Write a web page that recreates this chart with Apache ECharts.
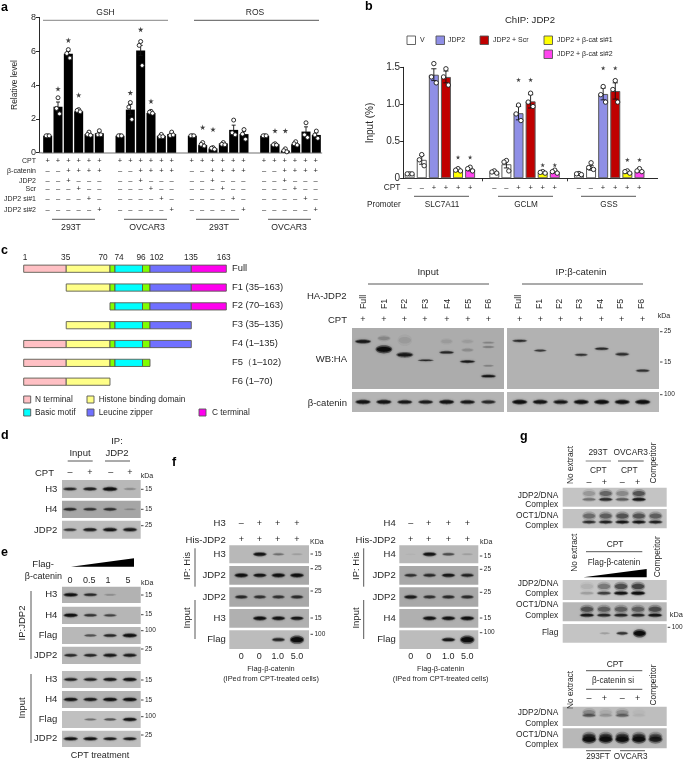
<!DOCTYPE html>
<html><head><meta charset="utf-8">
<style>html,body{margin:0;padding:0;background:#fff}#c{width:685px;height:760px}</style>
<script src="https://cdn.jsdelivr.net/npm/echarts@6/dist/echarts.min.js"></script>
</head><body><div id="c"></div>
<script>
// ---------- Panel a data ----------
const aGroupNames = ['293T','OVCAR3','293T','OVCAR3'];
const aMeans = [[1.0,2.72,5.85,2.45,1.1,1.15],[1.0,2.55,6.05,2.35,1.0,1.1],[1.0,0.45,0.25,0.55,1.35,1.1],[1.0,0.5,0.12,0.5,1.25,1.05]];
const aErrors = [[0.02,0.28,0.14,0.05,0.07,0.09],[0.02,0.3,0.3,0.05,0.06,0.08],[0.02,0.06,0.04,0.05,0.28,0.17],[0.02,0.03,0.06,0.07,0.28,0.13]];
const aPoints = [
 [[1,1,1],[3.25,2.62,2.3],[6.1,5.87,5.6],[2.55,2.5,2.42],[1.22,1.08,1.03],[1.3,1.06,1.06]],
 [[1,1,1],[2.97,2.7,1.97],[6.58,6.35,5.16],[2.45,2.4,2.33],[1.08,0.95,0.95],[1.22,1.02,1.05]],
 [[1,1,1],[0.6,0.49,0.4],[0.3,0.27,0.2],[0.6,0.5,0.47],[1.93,1.18,1.06],[1.37,1.1,0.8]],
 [[1,1,1],[0.53,0.47,0.45],[0.23,0.12,0.05],[0.65,0.53,0.45],[1.77,1.06,0.9],[1.28,1.05,0.85]]];
const aStars = [[[1,3.78],[2,6.66],[3,3.41]],[[1,3.55],[2,7.29],[3,3.05]],[[1,1.5],[2,1.38]],[[1,1.3],[2,1.3]]];
const aRowNames = ['CPT','β-catenin','JDP2','Scr','JDP2 si#1','JDP2 si#2'];
const aRowSigns = ['++++++','--++++','--+---','---+--','----+-','-----+'];
const aTicks = [0,2,4,6,8];
// ---------- Panel b data ----------
const bGroups = ['SLC7A11','GCLM','GSS'];
const bSeriesNames = ['V','JDP2','JDP2 + Scr','JDP2 + β-cat si#1','JDP2 + β-cat si#2'];
const bColorIdx = [0,0,1,2,3,4];
const bColors = ['#ffffff','#8f8fe6','#c00000','#ffff00','#ff44ee'];
const bMeans = [[0.06,0.25,1.4,1.37,0.11,0.12],[0.08,0.19,0.88,1.04,0.08,0.09],[0.05,0.14,1.14,1.18,0.08,0.1]];
const bErrors = [[0.01,0.06,0.08,0.08,0.015,0.02],[0.01,0.05,0.09,0.09,0.01,0.015],[0.005,0.03,0.08,0.11,0.01,0.015]];
const bPoints = [
 [[0.06,0.06,0.06],[0.32,0.25,0.17],[1.55,1.37,1.29],[1.48,1.37,1.26],[0.13,0.11,0.1],[0.15,0.13,0.1]],
 [[0.1,0.085,0.07],[0.24,0.22,0.1],[0.99,0.87,0.78],[1.15,1.03,0.97],[0.09,0.08,0.07],[0.11,0.09,0.07]],
 [[0.065,0.06,0.05],[0.21,0.145,0.12],[1.24,1.13,1.03],[1.32,1.2,1.03],[0.1,0.09,0.07],[0.13,0.1,0.09]]];
const bStars = [[[2,1.72],[3,1.72],[4,0.285],[5,0.285]],[[2,1.33],[3,1.33],[4,0.18],[5,0.18]],[[2,1.49],[3,1.49],[4,0.25],[5,0.25]]];
const bCptSigns = '--++++';
const bTicks = [0,0.5,1,1.5];
// ---------- Panel c data ----------
const cDomains = [[1,35,'#ffc0c4'],[35,70,'#ffff88'],[70,74,'#80ff00'],[74,96,'#00ffff'],[96,102,'#80ff00'],[102,135,'#7070ff'],[135,163,'#ff00ee']];
const cFragments = [['Full',1,163],['F1 (35–163)',35,163],['F2 (70–163)',70,163],['F3 (35–135)',35,135],['F4 (1–135)',1,135],['F5（1–102)',1,102],['F6 (1–70)',1,70]];
const cBoundaries = [1,35,70,74,96,102,135,163];
const cLegendNames = ['N terminal','Histone binding domain','Basic motif','Leucine zipper','C terminal'];
const cLaneNames = ['Full','F1','F2','F3','F4','F5','F6'];
// bands: lane, migration (0 top..1 bottom), darkness, width, height
const cInputBands = [[0,.22,.8,.78,.07],[1,.17,.16,.65,.1],[1,.35,1,.8,.13],[2,.2,.08,.7,.18],[2,.44,.8,.82,.09],[3,.53,.68,.78,.035],[4,.4,.68,.72,.05],[4,.22,.08,.6,.1],[5,.55,.8,.75,.05],[5,.36,.14,.6,.07],[5,.22,.07,.6,.08],[6,.79,.85,.72,.05],[6,.62,.18,.55,.04],[6,.31,.22,.6,.04],[6,.24,.18,.6,.04]];
const cIpBands = [[0,.21,.65,.75,.05],[1,.37,.55,.65,.045],[3,.44,.6,.66,.05],[4,.34,.65,.72,.05],[5,.43,.62,.7,.06],[6,.7,.6,.7,.05]];
const cCatInput = [.85,.85,.8,.75,.85,.8,.65];
const cCatIp = [.95,.85,.82,.9,.95,.9,.96];
// ---------- Panel d data ----------
const dLanes = ['–','+','–','+'];
const dH3 = [.65,.7,.95,.2];
const dH4 = [.65,.58,.6,.15];
const dJdp2 = [.55,.75,.82,.78];
// ---------- Panel e data ----------
const eDoses = ['0','0.5','1','5'];
const eIpH3 = [.92,.65,.18,0], eIpH4 = [.9,.58,.5,0], eIpFlag = [0,.42,.68,.92], eIpJdp2 = [.65,.68,.82,.78];
const eInH3 = [.72,.72,.78,.86], eInH4 = [.85,.78,.9,.9], eInFlag = [0,.3,.42,.82], eInJdp2 = [.88,.88,.76,.76];
// ---------- Panel f data ----------
const fDoses = ['0','0','1.0','5.0'];
const fSign1 = ['–','+','+','+'], fSign2 = ['+','+','+','+'];
const fLH3 = [0,.85,.3,.1], fLJ = [.92,.82,.9,.94], fLJin = [.65,.58,.58,.62], fLH3in = [0,.9,.85,.8], fLFlag = [0,0,.7,1];
const fRH4 = [.02,.85,.45,.1], fRJ = [.6,.65,.8,.72], fRJin = [.75,.58,.62,.62], fRH4in = [0,.85,.85,.9], fRFlag = [0,0,.8,1];
// ---------- Panel g data ----------
const g1J = [0,.32,.7,.42,.85,0], g1O = [0,.65,.75,.85,.85,.75];
const g2J = [0,.15,.55,.9,1,0], g2O = [0,.85,.72,.72,.72,.9], g2Flag = [0,0,.14,.6,1,0];
const g3J = [0,.4,.15,.35,.04,0], g3O = [0,1,.95,.95,.95,.75];

// ---------- layout helpers ----------
const FONT = '"Liberation Sans", Arial, sans-serif', INK = '#262626';
const graphic = [], grids = [], xAxes = [], yAxes = [], series = [];
function T(x,y,s,o={}){graphic.push({type:'text',x,y,rotation:o.rot||0,silent:true,z:50,style:{text:s,fill:o.c||INK,font:`${o.b?'bold ':''}${o.f||8}px ${FONT}`,align:o.a||'center',verticalAlign:'middle'}});}
function L(x1,y1,x2,y2,c='#444',w=.9){graphic.push({type:'line',silent:true,z:40,shape:{x1,y1,x2,y2},style:{stroke:c,lineWidth:w}});}
function R(x,y,w,h,fill,stroke='#555'){graphic.push({type:'rect',silent:true,z:40,shape:{x,y,width:w,height:h},style:{fill,stroke,lineWidth:.9}});}
function Tri(x1,y,x2,h){graphic.push({type:'polygon',silent:true,z:40,shape:{points:[[x1,y],[x2,y-h],[x2,y]]},style:{fill:'#000'}});}
function kd(x,y,s){L(x,y,x+2.5,y,'#333',.9);T(x+4,y,s,{a:'left',f:6.5});}
const sign = ch => ch==='+'?'+':'–';

// blot panels: each one is its own grid whose x axis counts lanes and y axis counts migration
function blot(rect,x0,sp,bg,bands){
  const [x1,y1,x2,y2] = rect, gi = grids.length;
  grids.push({left:x1,top:y1,width:x2-x1,height:y2-y1,show:true,backgroundColor:bg,borderWidth:0});
  xAxes.push({gridIndex:gi,type:'value',show:false,min:(x1-x0)/sp,max:(x2-x0)/sp});
  yAxes.push({gridIndex:gi,type:'value',show:false,min:0,max:1,inverse:true});
  series.push({type:'custom',xAxisIndex:gi,yAxisIndex:gi,clip:true,silent:true,animation:false,data:bands,
    encode:{x:0,y:1},renderItem(p,api){
      const c = api.coord([api.value(0),api.value(1)]), s = api.size([1,1]);
      const a = api.value(2), rx = api.value(3)*s[0]/2, ry = api.value(4)*s[1]/2;
      return {type:'group',children:[
        {type:'ellipse',shape:{cx:c[0],cy:c[1],rx,ry:ry*1.05},style:{fill:`rgba(20,20,20,${a*.5})`,shadowBlur:2.5,shadowColor:`rgba(20,20,20,${a*.55})`}},
        {type:'ellipse',shape:{cx:c[0],cy:c[1],rx:rx*.85,ry:ry*.6},style:{fill:`rgba(12,12,12,${a*.95})`,shadowBlur:1.5,shadowColor:`rgba(12,12,12,${a*.8})`}}
      ]};
    }});
}
const lanes = arr => arr.map((v,i)=>[i,.5,v,.62+.14*v,.12+.13*v+(v>.97?.18:0)]).filter(b=>b[2]>0);
const doublet = (arr,lo=.68,up=.36,h=.2) => arr.flatMap((v,i)=>v>0?[[i,up,v*.5,.84,.44],[i,lo,v*.95,.86,h]]:[]);

// ---------- panel a chart ----------
function slotsFrom(groups,gap){const out=[];groups.forEach((g,gi)=>{g.forEach((v,i)=>out.push({g:gi,i,v}));if(gi<groups.length-1||gap>0)for(let k=0;k<(gi<groups.length-1?1:gap);k++)out.push(null);});return out;}
function addBarChart(cfg){
  const gi = grids.length, slots = slotsFrom(cfg.means,cfg.trail), n = slots.length;
  grids.push({left:cfg.left,top:cfg.top,width:cfg.width,height:cfg.height,show:false});
  xAxes.push({gridIndex:gi,type:'category',data:slots.map((s,i)=>String(i)),boundaryGap:true,
    axisLine:{show:true,lineStyle:cfg.xLine},axisLabel:{show:false},
    axisTick:cfg.xTick?{show:true,alignWithLabel:true,length:3,lineStyle:{color:'#222',width:.9},interval:(i)=>slots[i]===null&&i<n-1}:{show:false}});
  yAxes.push({gridIndex:gi,type:'value',min:0,max:cfg.max,interval:cfg.step,offset:cfg.offset,splitLine:{show:false},
    axisLine:{show:true,onZero:false,lineStyle:{color:'#111',width:.9}},axisTick:{show:true,length:3.5,lineStyle:{color:'#111',width:.9}},
    axisLabel:{fontFamily:FONT,fontSize:cfg.tickFont,color:INK,margin:3.5,formatter:cfg.fmt}});
  const slotOf = (g,i)=>slots.findIndex(s=>s&&s.g===g&&s.i===i);
  series.push({type:'bar',xAxisIndex:gi,yAxisIndex:gi,barWidth:cfg.barW,silent:true,animation:false,z:2,
    data:slots.map(s=>s?{value:s.v,itemStyle:cfg.itemStyle(s)}:null)});
  const errs=[];cfg.errors.forEach((g,gk)=>g.forEach((e,i)=>errs.push([slotOf(gk,i),cfg.means[gk][i],e])));
  series.push({type:'custom',xAxisIndex:gi,yAxisIndex:gi,silent:true,animation:false,z:3,data:errs,encode:{x:0,y:1},
    renderItem(p,api){const x=api.value(0),m=api.value(1),e=api.value(2),a=api.coord([x,m+e]),b=api.coord([x,m-e]);
      const w=cfg.capW,st={stroke:'#111',lineWidth:.9};
      return {type:'group',children:[{type:'line',shape:{x1:a[0],y1:a[1],x2:b[0],y2:b[1]},style:st},
        {type:'line',shape:{x1:a[0]-w,y1:a[1],x2:a[0]+w,y2:a[1]},style:st},{type:'line',shape:{x1:b[0]-w,y1:b[1],x2:b[0]+w,y2:b[1]},style:st}]};}});
  const pts=[];cfg.points.forEach((g,gk)=>g.forEach((tri,i)=>tri.forEach((v,r)=>pts.push([slotOf(gk,i),v,r]))));
  series.push({type:'custom',xAxisIndex:gi,yAxisIndex:gi,silent:true,animation:false,z:4,data:pts,encode:{x:0,y:1},
    renderItem(p,api){const c=api.coord([api.value(0),api.value(1)]);
      return {type:'circle',shape:{cx:c[0]+cfg.jitter[api.value(2)],cy:c[1],r:cfg.r},style:{fill:'#fff',stroke:'#1a1a1a',lineWidth:.9}};}});
  const st=[];cfg.stars.forEach((g,gk)=>g.forEach(s=>st.push([slotOf(gk,s[0]),s[1]])));
  series.push({type:'scatter',xAxisIndex:gi,yAxisIndex:gi,silent:true,animation:false,z:5,data:st,symbolSize:cfg.starSize,
    symbol:'path://M50 0 L61 35 L98 35 L68 57 L79 91 L50 70 L21 91 L32 57 L2 35 L39 35 Z',itemStyle:{color:'#111'}});
}
addBarChart({left:42.5,top:17.5,width:279,height:135.2,max:8,step:2,offset:3,tickFont:9,barW:9,capW:2,r:2,starSize:5.5,trail:0,
  means:aMeans,errors:aErrors,points:aPoints,stars:aStars,jitter:[0,-1.5,1.5],xLine:{color:'#a0a0a0',width:1.6},xTick:false,
  itemStyle:()=>({color:'#000'}),fmt:v=>String(v)});
addBarChart({left:403.6,top:67.3,width:254,height:111,max:1.5,step:.5,offset:0,tickFont:10,barW:10,capW:2.6,r:2.2,starSize:4.6,trail:1,
  means:bMeans,errors:bErrors,points:bPoints,stars:bStars,jitter:[0,-2.4,2.4],xLine:{color:'#111',width:.9},xTick:true,
  itemStyle:s=>({color:bColors[bColorIdx[s.i]],borderColor:'#5a5a5a',borderWidth:1}),fmt:v=>v===0?'0':v.toFixed(1)});
L(39.5,152.7,42.5,152.7,'#a0a0a0',1.6);

// a annotations
T(1,8,'a',{a:'left',b:1,f:12.5,c:'#000'});
T(105.5,12.5,'GSH',{f:8.5});T(255,12.5,'ROS',{f:8.5});
L(43,20.3,168,20.3,'#777');L(194,20.3,319,20.3,'#444');
T(14.5,85,'Relative level',{f:8.4,rot:Math.PI/2});
const aRowY=[161.3,171,181,189.2,199,210.3];
const aGroupX0=[47.7,120,191.8,264];
aRowNames.forEach((n,r)=>{T(36,aRowY[r],n,{a:'right',f:7});
  aGroupX0.forEach(x0=>{[...aRowSigns[r]].forEach((ch,i)=>T(x0+i*10.33,aRowY[r],sign(ch),{f:7.5}));});});
[[52,95,71],[124,167,147],[196,239,219],[268,311,289]].forEach((a,i)=>{L(a[0],219.3,a[1],219.3);T(a[2],227.3,aGroupNames[i],{f:8.7});});

// b annotations
T(365,7,'b',{a:'left',b:1,f:12.5,c:'#000'});
T(530,20.7,'ChIP: JDP2',{f:9.6});
T(370,123,'Input (%)',{f:10,rot:Math.PI/2});
[[407,36,420],[436,36,448],[480,36,493],[544,36,557],[544,50,557]].forEach((p,i)=>{R(p[0],p[1],8.5,8.5,bColors[i],'#555');T(p[2],p[1]+4.5,bSeriesNames[i],{a:'left',f:7});});
T(392,187.7,'CPT',{f:8.4});T(367,204.7,'Promoter',{a:'left',f:8.2});
[409.7,494.3,578.8].forEach(x0=>[...bCptSigns].forEach((ch,i)=>T(x0+i*12.1,187.7,sign(ch),{f:7.5})));
[[414,469,442],[498,553,526],[581,636,609]].forEach((a,i)=>{L(a[0],196.3,a[1],196.3);T(a[2],205,bGroups[i],{f:8.2});});

// c domain map: its x axis counts residues, its y axis counts fragments
{
  const gi=grids.length;
  grids.push({left:23.7,top:259.3,width:202.6,height:131.8,show:false});
  xAxes.push({gridIndex:gi,type:'value',show:false,min:1,max:163});
  yAxes.push({gridIndex:gi,type:'category',show:false,inverse:true,data:cFragments.map(f=>f[0])});
  const segs=[];cFragments.forEach((f,r)=>cDomains.forEach(d=>{const a=Math.max(f[1],d[0]),b=Math.min(f[2],d[1]);if(b>a)segs.push([a,r,b,d[2]]);}));
  series.push({type:'custom',xAxisIndex:gi,yAxisIndex:gi,silent:true,animation:false,data:segs,encode:{x:0,y:1},
    renderItem(p,api){const s=api.coord([api.value(0),api.value(1)]),e=api.coord([api.value(2),api.value(1)]),h=7.2;
      return {type:'rect',shape:{x:s[0],y:s[1]-h/2,width:e[0]-s[0],height:h},style:{fill:segs[p.dataIndex][3],stroke:'#5a5a50',lineWidth:.9}};}});
}
T(1,251,'c',{a:'left',b:1,f:12.5,c:'#000'});
const cBx=[25,65.7,103,119,141,156.7,191,223.7];
cBoundaries.forEach((b,i)=>T(cBx[i],258,String(b),{f:8.3}));
cFragments.forEach((f,r)=>T(232,268.2+r*18.83,f[0],{a:'left',f:9.4}));
[[23.7,396,35,0,'#ffc0c4'],[87,396,98.7,1,'#ffff88'],[23.7,409,35,2,'#00ffff'],[87,409,98.7,3,'#7070ff'],[199,409,212,4,'#ff00ee']].forEach(l=>{R(l[0],l[1],7,7,l[4],'#555');T(l[2],l[1]+4,cLegendNames[l[3]],{a:'left',f:8.3});});

// c blots
const cLaneX=[363,384,404.5,425,447,468,488.5], cIpX=[519.7,540.3,560.7,580.7,601.3,621.7,642.7];
blot([352,328,504,389],363,20.9,'#acacac',cInputBands);
blot([507,328,659,389],519.7,20.5,'#b2b2b2',cIpBands);
blot([352,392,504,412],363,20.9,'#b4b4b4',lanes(cCatInput));
blot([507,392,659,412],519.7,20.5,'#b8b8b8',lanes(cCatIp));
T(428,272,'Input',{f:9.5});T(581,272,'IP:β-catenin',{f:9.5});
L(368,284,489,284);L(522,284,643,284);
T(307,296,'HA-JDP2',{a:'left',f:9.5});T(347,320,'CPT',{a:'right',f:9.5});
cLaneNames.forEach((n,i)=>{T(cLaneX[i]+.5,309,n,{a:'left',f:8.8,rot:Math.PI/2});T(cIpX[i]-1,309,n,{a:'left',f:8.8,rot:Math.PI/2});
  T(cLaneX[i],320,'+',{f:9});T(cIpX[i],320,'+',{f:9});});
T(657.7,316,'kDa',{a:'left',f:7});
T(347,359,'WB:HA',{a:'right',f:9.5});T(347,403,'β-catenin',{a:'right',f:9.5});
kd(660,331.7,'25');kd(660,362,'15');kd(660,394.7,'100');

// d
const dX=[70,90,110.7,130];
T(1,436,'d',{a:'left',b:1,f:12.5,c:'#000'});
blot([62,480,140.7,498],70,20,'#b8b8b8',lanes(dH3));
blot([62,500.7,140.7,518],70,20,'#a6a6a6',lanes(dH4));
blot([62,520.7,140.7,538.7],70,20,'#bcbcbc',lanes(dJdp2));
T(80,453,'Input',{f:9.5});T(117,441,'IP:',{f:9.5});T(117,453,'JDP2',{f:9.5});
L(67.7,461,92.7,461);L(105,461,130,461);
T(54,473,'CPT',{a:'right',f:9.5});dLanes.forEach((s,i)=>T(dX[i],473,s,{f:9}));
T(140.7,476,'kDa',{a:'left',f:7});
T(57.3,489,'H3',{a:'right',f:9.5});T(57.3,509,'H4',{a:'right',f:9.5});T(57.3,530.7,'JDP2',{a:'right',f:9.5});
kd(141,489.3,'15');kd(141,509.3,'15');kd(141,525.7,'25');

// e
T(1,552.7,'e',{a:'left',b:1,f:12.5,c:'#000'});
Tri(71,566.7,134,8.4);
T(54,564,'Flag-',{a:'right',f:9.5});T(62,577,'β-catenin',{a:'right',f:9});
[70,89.3,108,128].forEach((x,i)=>T(x,580.7,eDoses[i],{f:9}));
T(141,583,'kDa',{a:'left',f:7});
const eRows=[[586.7,603,eIpH3,'H3','#b2b2b2','15',595],[606.7,624,eIpH4,'H4','#b6b6b6','15',614.7],[627,644,eIpFlag,'Flag','#b8b8b8','100',630.7],[646.7,664,eIpJdp2,'JDP2','#b6b6b6','25',649],
 [671,688,eInH3,'H3','#bcbcbc','15',680],[691,708,eInH4,'H4','#b2b2b2','15',700],[711,728,eInFlag,'Flag','#c0c0c0','100',716.7],[730.7,747,eInJdp2,'JDP2','#bebebe','25',735]];
eRows.forEach(r=>{blot([62,r[0],140.7,r[1]],70.7,19.7,r[4],lanes(r[2]));T(57.3,(r[0]+r[1])/2,r[3],{a:'right',f:9.5});kd(141,r[6],r[5]);});
T(22.7,623,'IP:JDP2',{f:9.5,rot:Math.PI/2});L(31,591,31,659);
T(22.7,708,'Input',{f:9.5,rot:Math.PI/2});L(31,674,31,743);
T(100,756,'CPT treatment',{f:9});

// f
T(172,463,'f',{a:'left',b:1,f:12.5,c:'#000'});
function fPanel(px1,px2,lx,x0,rowN,labelR,rotX,lineX,arrs,ticks,kdaX,kdaLabel,numCx){
  const ys=[[545.3,563.3],[566,584.7],[587.3,606.7],[609,627.7],[630.3,649]];
  const bgs=['#b8b8b8','#a8a8a8','#a8a8a8','#b0b0b0','#bcbcbc'];
  const names=[rowN,'JDP2','JDP2',rowN,'Flag'];
  ys.forEach((y,i)=>{blot([px1,y[0],px2,y[1]],lx[0],(lx[3]-lx[0])/3,bgs[i],lanes(arrs[i]));T(labelR,(y[0]+y[1])/2,names[i],{a:'right',f:9.5});kd(px2+1.5,ticks[i][1],ticks[i][0]);});
  T(labelR,523.3,rowN,{a:'right',f:9.5});T(labelR,540,'His-JDP2',{a:'right',f:9.5});
  lx.forEach((x,i)=>{T(x,523.3,fSign1[i],{f:9});T(x,540,fSign2[i],{f:9});T(x,656.7,fDoses[i],{f:9});});
  T(kdaX,541.7,kdaLabel,{a:'left',f:7});
  T(rotX,566,'IP: His',{f:9.5,rot:Math.PI/2});L(lineX,548.3,lineX,586.7);
  T(rotX,618,'Input',{f:9.5,rot:Math.PI/2});L(lineX,600,lineX,639);
  T(numCx,668.7,'Flag-β-catenin',{f:7.4});T(numCx,679,'(IPed from CPT-treated cells)',{f:7.4});
}
fPanel(229.3,309,[241.3,259.3,277.7,297],241.3,'H3',225.7,187.3,195,[fLH3,fLJ,fLJin,fLH3in,fLFlag],[['15',554],['25',568.7],['25',591],['15',618],['100',634.3]],310,'KDa',271);
fPanel(399.3,478.3,[410.7,428.7,448.3,467.3],410.7,'H4',395.7,356,363.7,[fRH4,fRJ,fRJin,fRH4in,fRFlag],[['15',556],['25',569.3],['25',592.3],['15',618],['100',632.7]],480,'kDa',440.7);

// g
T(520,437,'g',{a:'left',b:1,f:12.5,c:'#000'});
const gX=[572.3,589,604.3,622.3,637.7,655.7];
const gP=[562.7,666.7];
blot([gP[0],487.7,gP[1],506.7],572.5,16.6,'#c4c4c4',doublet(g1J,.62,.3));
blot([gP[0],509,gP[1],528.3],572.5,16.6,'#c2c2c2',doublet(g1O));
blot([gP[0],580,gP[1],600],570,17,'#c6c6c6',doublet(g2J,.66,.32));
blot([gP[0],602.3,gP[1],621.3],570,17,'#b8b8b8',doublet(g2O));
blot([gP[0],624,gP[1],642.7],570,17.4,'#c4c4c4',lanes(g2Flag));
blot([gP[0],706.7,gP[1],726],572.5,16.6,'#bebebe',doublet(g3J,.45,.3));
blot([gP[0],728.3,gP[1],748.3],572.5,16.6,'#b8b8b8',doublet(g3O,.55,.4,.42));
const gLab=(ys)=>ys.forEach(p=>T(558.3,p[0],p[1],{a:'right',f:8.4}));
gLab([[495.3,'JDP2/DNA'],[504.6,'Complex'],[516,'OCT1/DNA'],[525.7,'Complex'],[583.3,'JDP2/DNA'],[594,'Complex'],[605,'OCT1/DNA'],[616,'Complex'],[632.3,'Flag'],[712.7,'JDP2/DNA'],[723.3,'Complex'],[734.3,'OCT1/DNA'],[745,'Complex']]);
T(570.7,465,'No extract',{f:8.4,rot:Math.PI/2});T(654,463,'Competitor',{f:8.4,rot:Math.PI/2});
T(598,453,'293T',{f:8.4});T(630.7,453,'OVCAR3',{f:8.4});L(585.7,461,611,461,'#777');L(618,461,643.7,461);
T(598.3,470.7,'CPT',{f:8.4});T(629.3,470.7,'CPT',{f:8.4});
['–','+','–','+'].forEach((s,i)=>{T(gX[i+1],483,s,{f:9});T(gX[i+1],698.3,s,{f:9});});
T(574.3,552.7,'No extract',{f:8.4,rot:Math.PI/2});T(658,556.7,'Competitor',{f:8.4,rot:Math.PI/2});
T(615,545,'CPT',{f:8.4});L(586,551.7,642.3,551.7);T(614,562.7,'Flag-β-catenin',{f:8.2});
Tri(583.3,577.3,646.7,8.3);
T(669.7,615,'kDa',{a:'left',f:7.4});kd(667.7,627.3,'100');
T(570.7,690,'No extract',{f:8.4,rot:Math.PI/2});T(654,685,'Competitor',{f:8.4,rot:Math.PI/2});
T(615,664.3,'CPT',{f:8.4});L(586,670.7,642.3,670.7);T(613,681,'β-catenin si',{f:8.2});L(586,689.3,642.3,689.3);
L(586,750.7,611,750.7);L(620,750.7,645,750.7);T(598,756.7,'293FT',{f:8.2});T(630.7,756.7,'OVCAR3',{f:8.2});

const chart = echarts.init(document.getElementById('c'),null,{renderer:'canvas',width:685,height:760});
chart.setOption({animation:false,backgroundColor:'#fff',textStyle:{fontFamily:FONT},grid:grids,xAxis:xAxes,yAxis:yAxes,series,graphic:{elements:graphic}});
</script></body></html>
